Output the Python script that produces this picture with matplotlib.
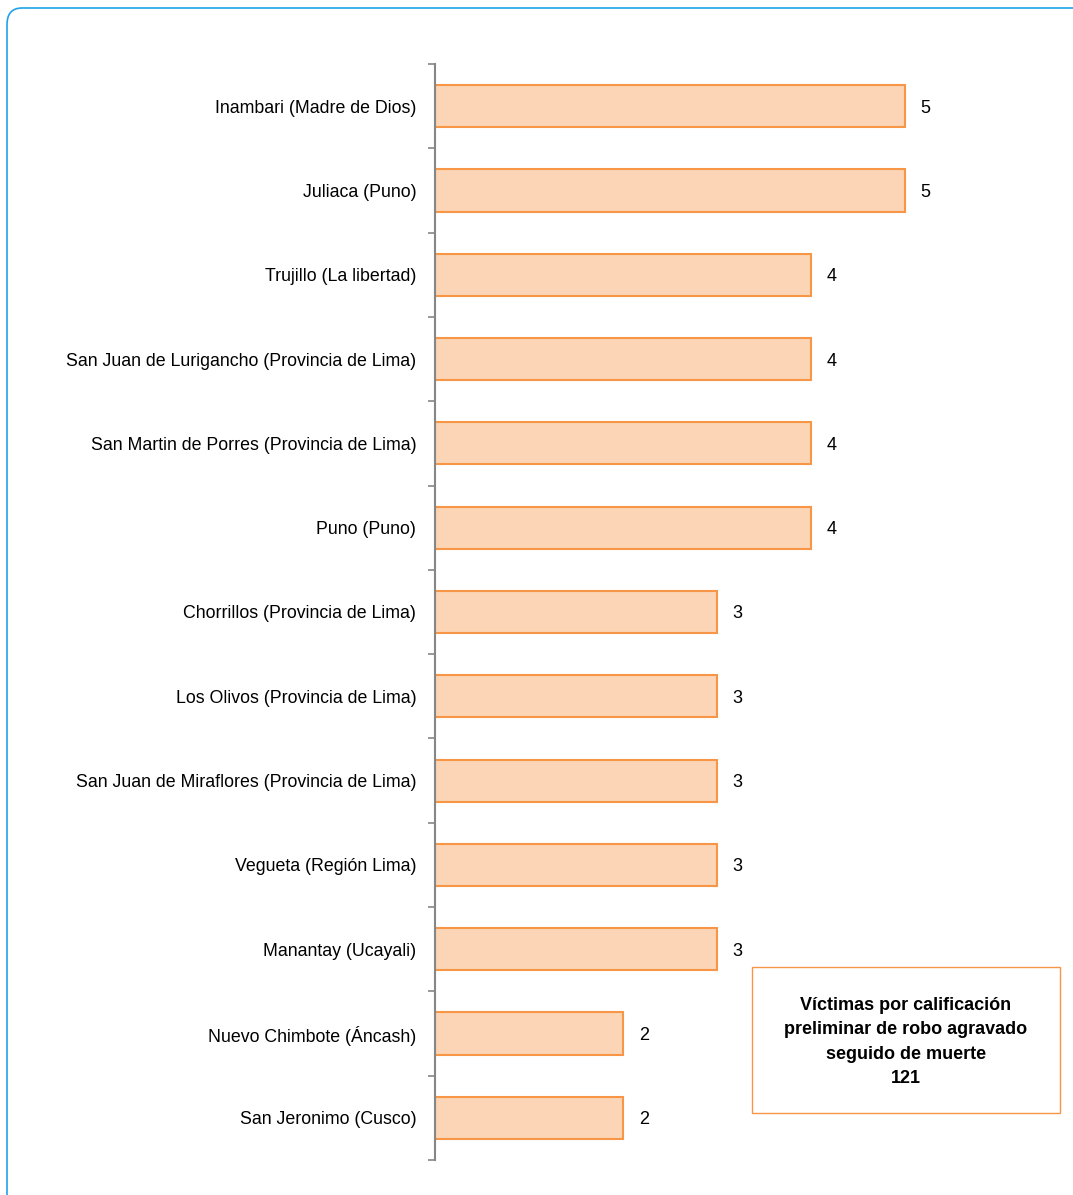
import numpy as np
import matplotlib.pyplot as plt
from matplotlib.patches import FancyBboxPatch, Rectangle

LOCATIONS = [
    'Inambari (Madre de Dios)',
    'Juliaca (Puno)',
    'Trujillo (La libertad)',
    'San Juan de Lurigancho (Provincia de Lima)',
    'San Martin de Porres (Provincia de Lima)',
    'Puno (Puno)',
    'Chorrillos (Provincia de Lima)',
    'Los Olivos (Provincia de Lima)',
    'San Juan de Miraflores (Provincia de Lima)',
    'Vegueta (Región Lima)',
    'Manantay (Ucayali)',
    'Nuevo Chimbote (Áncash)',
    'San Jeronimo (Cusco)',
]
VICTIMS = [5, 5, 4, 4, 4, 4, 3, 3, 3, 3, 3, 2, 2]
BOX_TEXT = 'Víctimas por calificación\npreliminar de robo agravado\nseguido de muerte\n121'

FONT = ['Liberation Sans', 'DejaVu Sans']
BAR_FILL = '#fbd5b5'
BAR_EDGE = '#f79646'
AXIS_GRAY = '#868686'

W, H = 1073, 1195
fig = plt.figure(figsize = (W / 100, H / 100), dpi = 100)

# rounded blue frame, cut off on the right and bottom like the source
frame = FancyBboxPatch(
    (7 / W, -0.2), 1.2, 1.2 - 8 / H,
    boxstyle = 'round,pad=0,rounding_size=0.014',
    transform = fig.transFigure, facecolor = 'none',
    edgecolor = '#1fa3e8', linewidth = 1.2, clip_on = False,
)
fig.patches.append(frame)

ax_left, ax_right = 435, 1060
ax_top, ax_bottom = 64, 1160
ax = fig.add_axes([
    ax_left / W, 1 - ax_bottom / H,
    (ax_right - ax_left) / W, (ax_bottom - ax_top) / H,
])
ax.set_facecolor('none')

n = len(LOCATIONS)
y_pos = np.arange(n)
ax.barh(y_pos, VICTIMS, height = 0.5, color = BAR_FILL,
        edgecolor = BAR_EDGE, linewidth = 1.5)
ax.set_ylim(n - 0.5, -0.5)
ax.set_xlim(0, (ax_right - ax_left) / 94)

for yy, val in zip(y_pos, VICTIMS):
    ax.text(val + 0.22, yy, str(val), va = 'center_baseline', ha = 'center',
            fontsize = 13, family = FONT, color = '#000000')

ax.set_yticks(y_pos)
ax.set_yticklabels(LOCATIONS, family = FONT, fontsize = 12.8,
                   va = 'center_baseline')
ax.tick_params(axis = 'y', which = 'major', length = 0, pad = 13.5)
ax.set_yticks(np.arange(n + 1) - 0.5, minor = True)
ax.tick_params(axis = 'y', which = 'minor', length = 5, width = 1.2,
               color = AXIS_GRAY, direction = 'out')
ax.set_xticks([])
for side in ['top', 'right', 'bottom']:
    ax.spines[side].set_visible(False)
ax.spines['left'].set_color(AXIS_GRAY)
ax.spines['left'].set_linewidth(1.5)

# summary box
box_l, box_t, box_r, box_b = 752, 967, 1060, 1113
fig.patches.append(Rectangle(
    (box_l / W, 1 - box_b / H), (box_r - box_l) / W, (box_b - box_t) / H,
    transform = fig.transFigure, facecolor = 'white',
    edgecolor = BAR_EDGE, linewidth = 1.0,
))
fig.text((box_l + box_r) / 2 / W, 1 - 1042 / H, BOX_TEXT,
         ha = 'center', va = 'center', fontsize = 13, fontweight = 'bold',
         family = FONT, linespacing = 1.55)

fig.savefig('out.png', dpi = 100)
